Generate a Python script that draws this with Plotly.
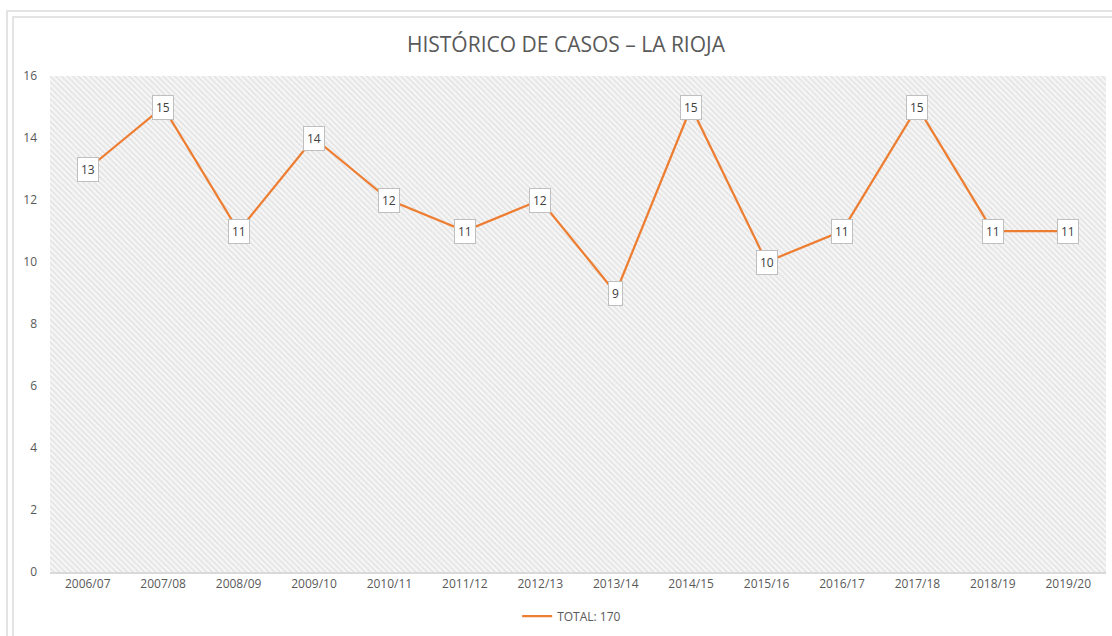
import plotly.graph_objects as go

seasons = ["2006/07", "2007/08", "2008/09", "2009/10", "2010/11", "2011/12", "2012/13",
           "2013/14", "2014/15", "2015/16", "2016/17", "2017/18", "2018/19", "2019/20"]
cases = [13, 15, 11, 14, 12, 11, 12, 9, 15, 10, 11, 15, 11, 11]
series_name = "TOTAL: 170"
title_text = "HISTÓRICO DE CASOS – LA RIOJA"
y_ticks = [0, 2, 4, 6, 8, 10, 12, 14, 16]

ORANGE = "#ED7D31"
TEXT = "#595959"
FONT = "Open Sans"

fig = go.Figure()

# patterned plot-area background (on hidden base axes spanning [0,1])
fig.add_trace(go.Scatter(
    x=[0, 1, 1, 0, 0], y=[0, 0, 1, 1, 0], xaxis="x", yaxis="y",
    mode="lines", line=dict(width=0), fill="toself", fillcolor="rgba(0,0,0,0)",
    fillpattern=dict(shape="\\", size=4, solidity=0.4, fgcolor="#d0d0d0", bgcolor="#f6f6f6"),
    hoverinfo="skip", showlegend=False,
))

fig.add_trace(go.Scatter(
    x=seasons, y=cases, mode="lines", name=series_name, xaxis="x2", yaxis="y2",
    line=dict(color=ORANGE, width=2.25),
))

for s, v in zip(seasons, cases):
    fig.add_annotation(
        x=s, y=v, xref="x2", yref="y2", text=str(v), showarrow=False,
        font=dict(family=FONT, size=12, color="#404040"),
        bgcolor="white", bordercolor="#bfbfbf", borderwidth=1, borderpad=3,
        xanchor="center", yanchor="middle",
    )

# chart frame (double light-grey border)
for x0, y0 in [(-0.0407, 1.131), (-0.0350, 1.119)]:
    fig.add_shape(type="rect", xref="paper", yref="paper",
                  x0=x0, y0=-0.2, x1=1.2, y1=y0,
                  line=dict(color="#e3e3e3", width=2), layer="below")

fig.update_layout(
    width=1112, height=636,
    margin=dict(l=50, r=6, t=76, b=64, autoexpand=False),
    paper_bgcolor="white", plot_bgcolor="white",
    title=dict(text=title_text, x=0.4886, xanchor="center", xref="paper", y=0.93,
               yanchor="middle", font=dict(family=FONT, size=21, color=TEXT)),
    font=dict(family=FONT, size=12, color=TEXT),
    showlegend=True,
    legend=dict(orientation="h", x=0.494, xanchor="center", y=-0.089, yanchor="middle",
                font=dict(family=FONT, size=12, color=TEXT), bgcolor="rgba(0,0,0,0)"),
    xaxis=dict(range=[0, 1], visible=False, fixedrange=True),
    yaxis=dict(range=[0, 1], visible=False, fixedrange=True),
    xaxis2=dict(overlaying="x", type="category", range=[-0.5, len(seasons) - 0.5],
                showgrid=False, showline=True, linecolor="#d9d9d9", linewidth=1.5,
                ticks="", tickfont=dict(size=12, color=TEXT), zeroline=False,
                automargin=False, side="bottom", anchor="y2"),
    yaxis2=dict(overlaying="y", range=[0, 16], tickvals=y_ticks, showgrid=False,
                showline=False, zeroline=False, ticks="", side="left", anchor="x2",
                tickfont=dict(size=12, color=TEXT), ticklabelstandoff=12, automargin=False),
)

fig.write_html("out.html", config={"displayModeBar": False},
               post_script="document.body.style.margin='0';document.body.style.overflow='hidden';")
